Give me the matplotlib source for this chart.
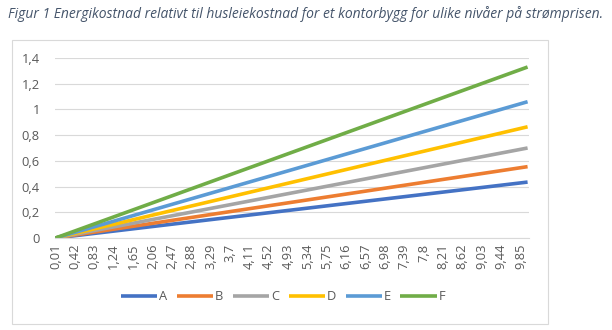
import matplotlib.pyplot as plt
from matplotlib.patches import Rectangle

# strømpris (x) - first and last category of the chart
price = [0.01, 10.0]

# energy cost relative to rent, start and end of each line
series = ["A", "B", "C", "D", "E", "F"]
values = {
    "A": [0.0, 0.435],
    "B": [0.0, 0.555],
    "C": [0.0, 0.70],
    "D": [0.0, 0.865],
    "E": [0.0, 1.06],
    "F": [0.0, 1.33],
}
colors = ["#4472C4", "#ED7D31", "#A5A5A5", "#FFC000", "#5B9BD5", "#70AD47"]

# category labels shown on the x axis
tick_values = [0.01, 0.42, 0.83, 1.24, 1.65, 2.06, 2.47, 2.88, 3.29, 3.7, 4.11, 4.52,
               4.93, 5.34, 5.75, 6.16, 6.57, 6.98, 7.39, 7.8, 8.21, 8.62, 9.03, 9.44, 9.85]
tick_labels = ["0,01", "0,42", "0,83", "1,24", "1,65", "2,06", "2,47", "2,88", "3,29",
               "3,7", "4,11", "4,52", "4,93", "5,34", "5,75", "6,16", "6,57", "6,98",
               "7,39", "7,8", "8,21", "8,62", "9,03", "9,44", "9,85"]
y_ticks = [0, 0.2, 0.4, 0.6, 0.8, 1.0, 1.2, 1.4]
y_labels = ["0", "0,2", "0,4", "0,6", "0,8", "1", "1,2", "1,4"]

plt.rcParams["font.family"] = ["Open Sans", "DejaVu Sans"]

W, H = 612, 330
fig = plt.figure(figsize=(W / 100, H / 100), dpi=100)

# chart frame
fig.patches.append(Rectangle((12 / W, 1 - 324 / H), (548 - 12) / W, (324 - 40) / H,
                             transform=fig.transFigure, fill=False,
                             edgecolor="#D9D9D9", linewidth=0.8))

fig.text(8 / W, 1 - 14 / H, "Figur 1 Energikostnad relativt til husleiekostnad for et kontorbygg for ulike nivåer på strømprisen.",
         fontsize=10.0, style="italic", color="#44546A", va="center", ha="left")

ax = fig.add_axes([55 / W, 1 - 238 / H, (529 - 55) / W, (238 - 58) / H])

for name, c in zip(series, colors):
    ax.plot(price, values[name], color=c, linewidth=2.6, label=name,
            solid_capstyle="butt")

ax.set_xlim(0.0, 10.03)
ax.set_ylim(0, 1.4)
ax.set_yticks(y_ticks)
ax.set_yticklabels(y_labels)
ax.set_xticks(tick_values)
ax.set_xticklabels(tick_labels, rotation=90)
ax.tick_params(length=0, labelsize=9.3, labelcolor="#595959")
ax.tick_params(axis="y", pad=11)
ax.tick_params(axis="x", pad=4)
ax.grid(axis="y", color="#D9D9D9", linewidth=0.8)
ax.set_axisbelow(True)
for s in ["top", "right", "left"]:
    ax.spines[s].set_visible(False)
ax.spines["bottom"].set_color("#D9D9D9")

fig.legend(loc="center", bbox_to_anchor=(283 / W, 1 - 297 / H), ncol=6, frameon=False,
           fontsize=9.3, handlelength=2.8, handletextpad=0.15, columnspacing=0.75,
           labelcolor="#595959")

fig.savefig("out.png", dpi=100)
